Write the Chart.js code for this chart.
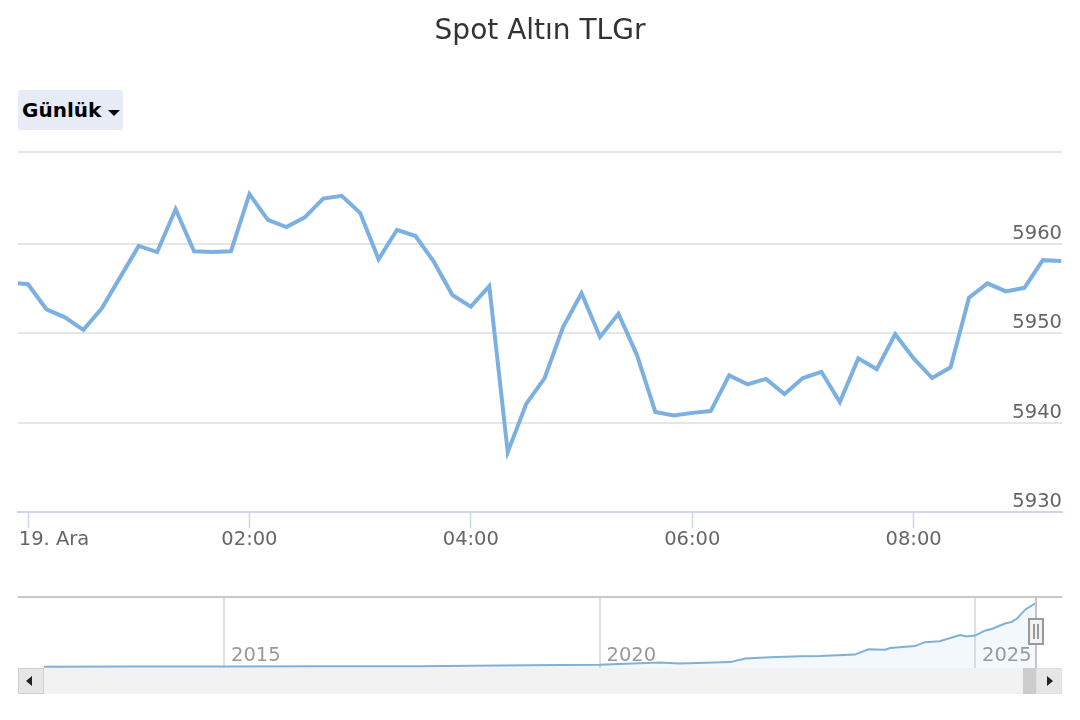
<!DOCTYPE html>
<html lang="tr">
<head>
<meta charset="utf-8">
<title>Spot Altın TLGr</title>
<script src="https://cdn.jsdelivr.net/npm/chart.js@4"></script>
<style>
html,body{margin:0;padding:0;background:#fff;width:1080px;height:720px;overflow:hidden;font-family:"DejaVu Sans",sans-serif}
canvas{position:absolute;left:0}
#main{top:0}
#nav{top:590px}
.b{position:absolute;box-sizing:border-box}
#btn{left:18px;top:90px;width:105px;height:40px;background:#e6ebf5;border-radius:3px;font-weight:bold;font-size:20px;line-height:40px;padding-left:4px;color:#000;z-index:3}
#caret{left:108px;top:110px;width:0;height:0;border-left:6.5px solid transparent;border-right:6.5px solid transparent;border-top:6px solid #000;z-index:4}
#track{left:18px;top:668px;width:1044px;height:26px;background:#f2f2f2}
#bl{left:18px;top:668px;width:26px;height:26px;background:#e6e6e6;border:1px solid #d0d0d0}
#br{left:1036px;top:668px;width:26px;height:26px;background:#e6e6e6;border:1px solid #e0e0e0}
#thumb{left:1023px;top:668px;width:13px;height:26px;background:#cccccc}
#al{left:26px;top:676px;width:0;height:0;border-top:5px solid transparent;border-bottom:5px solid transparent;border-right:6px solid #222}
#ar{left:1047px;top:676px;width:0;height:0;border-top:5px solid transparent;border-bottom:5px solid transparent;border-left:6px solid #222}
#hline{left:1035px;top:597px;width:2px;height:71px;background:#c4c4c4;z-index:2}
#handle{left:1028px;top:618px;width:16px;height:27px;background:#f2f2f2;border:2px solid #999;z-index:3}
#handle i{position:absolute;top:4px;height:15px;width:1.5px;background:#999}
</style>
</head>
<body>
<div class="b" id="track"></div><div class="b" id="thumb"></div><div class="b" id="bl"></div><div class="b" id="br"></div>
<div class="b" id="al"></div><div class="b" id="ar"></div>
<canvas id="main" width="1080" height="560" style="width:1080px;height:560px"></canvas>
<canvas id="nav" width="1080" height="80" style="width:1080px;height:80px"></canvas>
<div class="b" id="btn">Günlük</div><div class="b" id="caret"></div>
<div class="b" id="hline"></div>
<div class="b" id="handle"><i style="left:3px"></i><i style="left:7px"></i></div>
<script>
const chartTitle = "Spot Altın TLGr";
const minutes = [-10,0,10,20,30,40,50,60,70,80,90,100,110,120,130,140,150,160,170,180,190,200,210,220,230,240,250,260,270,280,290,300,310,320,330,340,350,360,370,380,390,400,410,420,430,440,450,460,470,480,490,500,510,520,530,540,550,560];
const prices = [5955.7,5955.5,5952.7,5951.8,5950.4,5952.8,5956.3,5959.8,5959.1,5963.9,5959.2,5959.1,5959.2,5965.6,5962.7,5961.9,5963.0,5965.1,5965.4,5963.5,5958.3,5961.6,5960.9,5958.0,5954.3,5953.0,5955.3,5936.7,5942.1,5945.0,5950.7,5954.5,5949.6,5952.2,5947.6,5941.2,5940.8,5941.1,5941.3,5945.3,5944.3,5944.9,5943.2,5945.0,5945.7,5942.3,5947.2,5946.0,5949.9,5947.2,5945.0,5946.2,5954.0,5955.6,5954.7,5955.1,5958.2,5958.1];
const timeTicks = [0,120,240,360,480];
const timeLabels = ["19. Ara","02:00","04:00","06:00","08:00"];
const priceTicks = [5930,5940,5950,5960,5970.31];
const priceLabels = ["5930","5940","5950","5960",""];

const navYears = [2012.6,2013.75,2015,2016.28,2017.6,2018.68,2019.47,2020,2020.8,2021.07,2021.74,2021.94,2022.27,2022.67,2022.94,2023.4,2023.58,2023.8,2023.87,2024.2,2024.33,2024.53,2024.8,2024.89,2025,2025.13,2025.23,2025.4,2025.49,2025.56,2025.67,2025.81];
const navValues = [126,130,135,150,170,220,270,300,510,420,540,870,990,1080,1100,1230,1710,1680,1830,2010,2370,2460,3030,2880,2970,3420,3600,4080,4230,4530,5370,5958];
const navTicks = [2015,2020,2025];

const FONT = '"DejaVu Sans", sans-serif';
const LINE = "#7cb0e0";
const toPoints = (xs, ys) => xs.map((x, i) => ({x, y: ys[i]}));

const shiftFirstLabel = {
  id: "shiftFirstLabel",
  afterLayout(chart) {
    const items = chart.scales.x.getLabelItems(chart.chartArea);
    if (items[0]) items[0].options.translation[0] += 26;
  }
};

new Chart(document.getElementById("main"), {
  type: "line",
  data: {datasets: [{data: toPoints(minutes, prices), borderColor: LINE, borderWidth: 4, pointRadius: 0, tension: 0, borderJoinStyle: "miter"}]},
  plugins: [shiftFirstLabel],
  options: {
    responsive: false, animation: false, devicePixelRatio: 1,
    layout: {autoPadding: false, padding: {left: 18, right: 18, top: 0, bottom: 0}},
    plugins: {
      legend: {display: false}, tooltip: {enabled: false},
      title: {display: true, text: chartTitle, color: "#333333", font: {family: FONT, size: 28, weight: "normal"}, padding: {top: 15, bottom: 103.4}}
    },
    scales: {
      x: {
        type: "linear", min: -5.42, max: 560.4,
        afterBuildTicks(s) { s.ticks = timeTicks.map(v => ({value: v})); },
        afterFit(s) { s.height = 48; s.paddingLeft = 0; s.paddingRight = 0; },
        grid: {drawOnChartArea: false, drawTicks: true, tickLength: 16, tickColor: "#ccd6eb", tickWidth: 1.5},
        border: {color: "#ccd6eb", width: 2},
        ticks: {autoSkip: false, maxRotation: 0, padding: 0, color: "#666666", font: {family: FONT, size: 19.5},
          callback: v => timeLabels[timeTicks.indexOf(v)]}
      },
      y: {
        type: "linear", position: "right", min: 5930, max: 5970.31,
        afterBuildTicks(s) { s.ticks = priceTicks.map(v => ({value: v})); },
        afterFit(s) { s.width = 0; },
        grid: {color: "#e6e6e6", lineWidth: 2, drawTicks: false},
        border: {display: false},
        ticks: {mirror: true, padding: 0, labelOffset: -10, color: "#666666", font: {family: FONT, size: 19.5},
          callback: v => priceLabels[priceTicks.indexOf(v)]}
      }
    }
  }
});

new Chart(document.getElementById("nav"), {
  type: "line",
  data: {datasets: [{data: toPoints(navYears, navValues), borderColor: "#7fb0d8", borderWidth: 2, pointRadius: 0, tension: 0, fill: "origin", backgroundColor: "rgba(124,176,224,0.09)"}]},
  options: {
    responsive: false, animation: false, devicePixelRatio: 1,
    layout: {autoPadding: false, padding: {left: 18, right: 18, top: 7, bottom: 2}},
    plugins: {legend: {display: false}, tooltip: {enabled: false}, title: {display: false}},
    scales: {
      x: {
        type: "linear", min: 2012.257, max: 2026.158,
        afterBuildTicks(s) { s.ticks = navTicks.map(v => ({value: v})); },
        afterFit(s) { s.height = 0; s.paddingLeft = 0; s.paddingRight = 0; },
        grid: {color: "#e0e0e0", lineWidth: 2, drawTicks: false},
        border: {display: false},
        ticks: {autoSkip: false, maxRotation: 0, mirror: true, align: "start", labelOffset: 7, padding: 0, color: "#999999", font: {family: FONT, size: 19.5},
          callback: v => String(v)}
      },
      y: {
        type: "linear", min: 0, max: 6510,
        afterBuildTicks(s) { s.ticks = [{value: 6510}]; },
        afterFit(s) { s.width = 0; },
        grid: {color: "#c8c8c8", lineWidth: 2, drawTicks: false},
        border: {display: false},
        ticks: {display: false}
      }
    }
  }
});
</script>
</body>
</html>
